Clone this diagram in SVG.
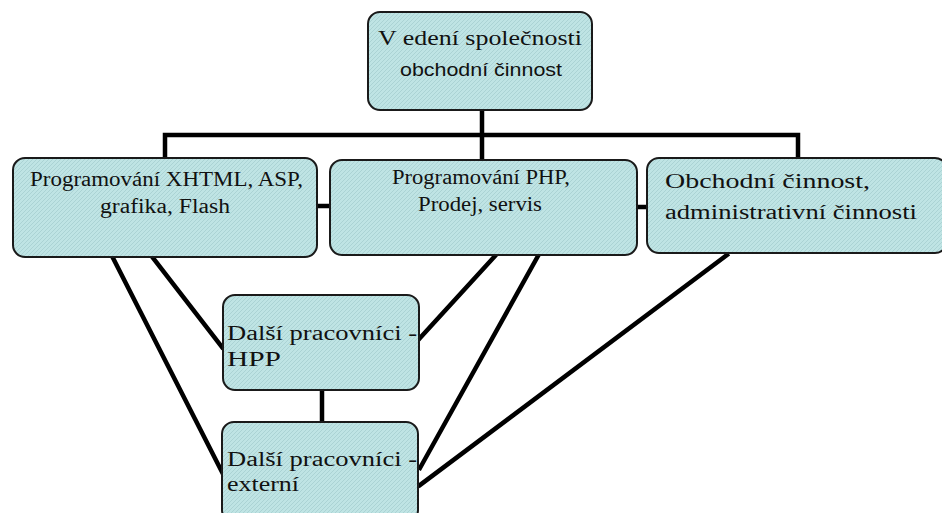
<svg xmlns="http://www.w3.org/2000/svg" width="942" height="513" viewBox="0 0 942 513">
<defs>
<pattern id="hatch" width="4" height="4" patternUnits="userSpaceOnUse">
<rect width="4" height="4" fill="#bfe4e4"/>
<path d="M0,4 L4,0" stroke="#a6cfd0" stroke-width="0.8"/>
</pattern>
</defs>
<style>
.box{fill:url(#hatch);stroke:#1a1a1a;stroke-width:2}
.t{font-family:"Liberation Serif","DejaVu Serif",serif;font-size:20px;fill:#111}
.s{font-family:"Liberation Sans","DejaVu Sans",sans-serif;font-size:19px;fill:#111}
.c{text-anchor:middle}
.con{stroke:#000;stroke-width:4.5;fill:none;stroke-linecap:square}
</style>
<rect width="942" height="513" fill="#fff"/>
<g id="connectors">
<path class="con" d="M482,110 V135 M165,135 H798 M165,135 V158 M482,135 V160 M798,135 V158"/>
<path class="con" d="M317,206 H330 M637,207 H647"/>
<path class="con" d="M113,258 L222,472 M153,258 L222,347"/>
<path class="con" d="M495,256 L420,338 M538,256 L420,468 M727,255 L420,485"/>
<path class="con" d="M322,390 V422"/>
</g>
<g id="n-vedeni">
<rect class="box" x="368" y="12" width="224" height="98" rx="12"/>
<text class="t" x="378" y="45" textLength="204" lengthAdjust="spacingAndGlyphs">V edení společnosti</text>
<text class="s" x="400" y="76" textLength="162" lengthAdjust="spacingAndGlyphs">obchodní činnost</text>
</g>
<g id="n-xhtml">
<rect class="box" x="13" y="158" width="304" height="99" rx="12"/>
<text class="t" x="30" y="186" textLength="273" lengthAdjust="spacingAndGlyphs">Programování XHTML, ASP,</text>
<text class="t" x="100" y="213" textLength="130" lengthAdjust="spacingAndGlyphs">grafika, Flash</text>
</g>
<g id="n-php">
<rect class="box" x="330" y="160" width="307" height="95" rx="12"/>
<text class="t" x="392" y="184" textLength="178" lengthAdjust="spacingAndGlyphs">Programování PHP,</text>
<text class="t" x="418" y="211" textLength="124" lengthAdjust="spacingAndGlyphs">Prodej, servis</text>
</g>
<g id="n-obchod">
<rect class="box" x="647" y="158" width="300" height="95" rx="12"/>
<text class="t" x="665" y="188" textLength="205" lengthAdjust="spacingAndGlyphs">Obchodní činnost,</text>
<text class="t" x="665" y="219" textLength="252" lengthAdjust="spacingAndGlyphs">administrativní činnosti</text>
</g>
<g id="n-hpp">
<rect class="box" x="223" y="295" width="196" height="95" rx="12"/>
<text class="t" x="227" y="340" textLength="190" lengthAdjust="spacingAndGlyphs">Další pracovníci -</text>
<text class="t" x="227" y="366" textLength="54" lengthAdjust="spacingAndGlyphs">HPP</text>
</g>
<g id="n-externi">
<rect class="box" x="222" y="422" width="196" height="100" rx="12"/>
<text class="t" x="227" y="466" textLength="190" lengthAdjust="spacingAndGlyphs">Další pracovníci -</text>
<text class="t" x="227" y="491" textLength="72" lengthAdjust="spacingAndGlyphs">externí</text>
</g>
</svg>
